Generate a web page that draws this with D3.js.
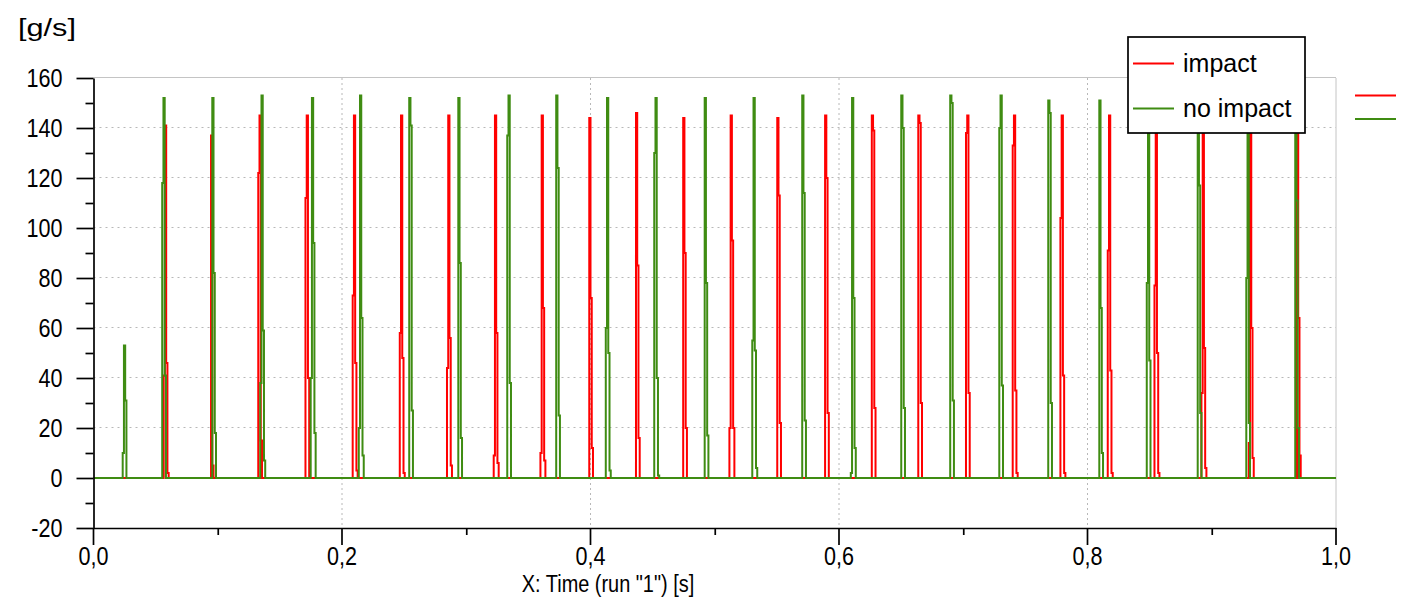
<!DOCTYPE html>
<html>
<head>
<meta charset="utf-8">
<script src="https://cdn.jsdelivr.net/npm/d3@7"></script>
<style>
  body { margin: 0; background: #fff; }
  text { font-family: 'Liberation Sans', Arial, sans-serif; fill: #000; }
</style>
</head>
<body>
<svg width="1409" height="606"></svg>
<script>
// series names / colours
var seriesNames = ['impact', 'no impact']
var seriesColors = ['#ff0000', '#3f8c12']

// y ticks, x ticks
var yTicks = [-20, 0, 20, 40, 60, 80, 100, 120, 140, 160]
var yMinor = [-10, 10, 30, 50, 70, 90, 110, 130, 150]
var xTicks = [0, 0.2, 0.4, 0.6, 0.8, 1.0]
var xMinor = [0.1, 0.3, 0.5, 0.7, 0.9]

// sample interval of the pulses [s]
var dt = 0.001

// "impact" pulses: start time [s] and the sampled values [g/s]
var redStarts = [0.0555, 0.0936, 0.1316, 0.1696, 0.2076, 0.2455, 0.2835, 0.3211, 0.3587, 0.3980,
    0.4356, 0.4736, 0.5108, 0.5493, 0.5878, 0.6254, 0.6628, 0.7012, 0.7388, 0.7772,
    0.8153, 0.8529, 0.8907, 0.9288, 0.9676]
var redPulses = [
    [0, 41, 141, 46, 2, 0],
    [0, 137, 5, 0],
    [0, 122, 145, 15, 0],
    [0, 112, 145, 40, 0],
    [0, 73, 145, 46, 3, 0],
    [0, 58, 145, 48, 2, 0],
    [0, 44, 145, 56, 5, 0],
    [0, 9, 145, 58, 6, 0],
    [0, 10, 145, 68, 7, 0],
    [0, 144, 72, 12, 0],
    [0, 146, 85, 16, 0],
    [0, 144, 90, 20, 0],
    [0, 20, 145, 95, 20, 0],
    [0, 144, 113, 22, 0],
    [0, 145, 120, 26, 0],
    [0, 145, 139, 28, 0],
    [0, 145, 142, 30, 0],
    [0, 138, 145, 34, 0],
    [0, 133, 145, 35, 2, 0],
    [0, 104, 145, 41, 2, 0],
    [0, 91, 145, 43, 2, 0],
    [0, 77, 145, 50, 2, 0],
    [0, 34, 145, 52, 4, 0],
    [0, 14, 145, 60, 8, 0],
    [0, 145, 64, 9, 0]
]

// "no impact" pulses
var greenStarts = [0.0225, 0.0543, 0.0946, 0.1332, 0.1738, 0.2125, 0.2531, 0.2926, 0.3320, 0.3714,
    0.4113, 0.4503, 0.4909, 0.5292, 0.5694, 0.6085, 0.6491, 0.6885, 0.7280, 0.7674,
    0.8085, 0.8467, 0.8877, 0.9268, 0.9662]
var greenPulses = [
    [0, 10, 53, 31, 0],
    [0, 118, 152, 41, 0],
    [0, 152, 82, 18, 0],
    [0, 38, 153, 59, 7, 0],
    [0, 40, 152, 94, 18, 0],
    [0, 20, 153, 64, 9, 0],
    [0, 152, 141, 27, 0],
    [0, 152, 86, 16, 0],
    [0, 137, 153, 38, 0],
    [0, 153, 124, 25, 0],
    [0, 60, 152, 50, 3, 0],
    [0, 130, 152, 40, 1, 0],
    [0, 152, 78, 17, 0],
    [0, 55, 152, 51, 4, 0],
    [0, 153, 114, 23, 0],
    [0, 2, 152, 72, 12, 0],
    [0, 153, 140, 28, 0],
    [0, 153, 150, 31, 0],
    [0, 140, 153, 37, 0],
    [0, 151, 146, 30, 0],
    [0, 151, 68, 10, 0],
    [0, 78, 152, 47, 0],
    [0, 152, 117, 26, 0],
    [0, 80, 152, 22, 0],
    [0, 152, 111, 20, 0]
]

function toSeries(starts, pulses) {
    var pts = [[0, 0]]
    starts.forEach(function (t0, k) {
        pulses[k].forEach(function (v, i) { pts.push([t0 + i * dt, v]) })
    })
    pts.push([1, 0])
    return pts
}
var series = [toSeries(redStarts, redPulses), toSeries(greenStarts, greenPulses)]

var svg = d3.select('svg')
var x = d3.scaleLinear().domain([0, 1]).range([93.5, 1336])
var y = d3.scaleLinear().domain([-20, 160]).range([528, 78])
var sx = 0.83 // condensed look of the axis font

// grid (dotted)
svg.append('g')
    .selectAll('line')
    .data(yTicks.filter(d => d > -20 && d < 160))
    .enter()
    .append('line')
    .attr('x1', x(0)).attr('x2', x(1))
    .attr('y1', d => y(d) - 0.5).attr('y2', d => y(d) - 0.5)
    .attr('stroke', '#b8b8b8')
    .attr('stroke-dasharray', '2,4')

svg.append('g')
    .selectAll('line')
    .data(xTicks.filter(d => d > 0 && d < 1))
    .enter()
    .append('line')
    .attr('x1', d => x(d)).attr('x2', d => x(d))
    .attr('y1', y(160)).attr('y2', y(-20))
    .attr('stroke', '#b8b8b8')
    .attr('stroke-dasharray', '2,3')

// top / right border
svg.append('line')
    .attr('x1', x(0)).attr('x2', x(1))
    .attr('y1', y(160) - 0.5).attr('y2', y(160) - 0.5)
    .attr('stroke', '#c4c4c4')
svg.append('line')
    .attr('x1', x(1)).attr('x2', x(1))
    .attr('y1', y(160)).attr('y2', y(-20))
    .attr('stroke', '#c4c4c4')

// lines
svg.append('clipPath').attr('id', 'plot')
    .append('rect')
    .attr('x', x(0)).attr('y', y(160) - 2)
    .attr('width', x(1) - x(0)).attr('height', y(-20) - y(160) + 2)

var line = d3.line()
    .x(d => x(d[0]))
    .y(d => y(d[1]))
    .curve(d3.curveStepAfter)

svg.append('g')
    .attr('clip-path', 'url(#plot)')
    .selectAll('path')
    .data(series)
    .enter()
    .append('path')
    .attr('d', line)
    .attr('fill', 'none')
    .attr('stroke', (d, i) => seriesColors[i])
    .attr('stroke-width', 2)

// axes
var yAxis = svg.append('g')
    .attr('transform', 'translate(' + x(0) + ',0)')
    .call(d3.axisLeft(y).tickValues(yTicks).tickSize(17).tickSizeOuter(0)
        .tickFormat(d => String(d)))
yAxis.selectAll('text')
    .attr('x', -31 / sx)
    .attr('transform', 'scale(' + sx + ',1)')
    .style('font-size', '26px')

svg.append('g')
    .attr('transform', 'translate(' + x(0) + ',0)')
    .call(d3.axisLeft(y).tickValues(yMinor).tickSize(8).tickFormat(''))
    .select('.domain').remove()

var xAxis = svg.append('g')
    .attr('transform', 'translate(0,' + y(-20) + ')')
    .call(d3.axisBottom(x).tickValues(xTicks).tickSize(17).tickSizeOuter(0).tickPadding(2)
        .tickFormat(d => d.toFixed(1).replace('.', ',')))
xAxis.selectAll('text')
    .attr('transform', 'scale(' + sx + ',1)')
    .style('font-size', '26px')
xAxis.selectAll('.tick').each(function (d) {
    d3.select(this).attr('transform', 'translate(' + x(d) + ',0)')
    d3.select(this).select('text').attr('x', 0)
})

svg.append('g')
    .attr('transform', 'translate(0,' + y(-20) + ')')
    .call(d3.axisBottom(x).tickValues(xMinor).tickSize(7).tickFormat(''))
    .select('.domain').remove()

svg.selectAll('.domain, .tick line')
    .attr('stroke', '#000')
    .attr('stroke-width', 1.7)

// titles
svg.append('text')
    .text('[g/s]')
    .attr('x', 18)
    .attr('y', 36)
    .attr('textLength', 58)
    .attr('lengthAdjust', 'spacingAndGlyphs')
    .style('font-size', '23px')

svg.append('text')
    .text('X: Time (run "1") [s]')
    .attr('x', 608 / sx)
    .attr('y', 592)
    .attr('transform', 'scale(' + sx + ',1)')
    .style('text-anchor', 'middle')
    .style('font-size', '24px')

// legend box
var legend = svg.append('g')
legend.append('rect')
    .attr('x', 1128).attr('y', 37)
    .attr('width', 177).attr('height', 96)
    .attr('fill', '#fff')
    .attr('stroke', '#000')
    .attr('stroke-width', 1.7)

legend.selectAll('line')
    .data(seriesNames)
    .enter()
    .append('line')
    .attr('x1', 1133).attr('x2', 1174)
    .attr('y1', (d, i) => 63.5 + i * 45).attr('y2', (d, i) => 63.5 + i * 45)
    .attr('stroke', (d, i) => seriesColors[i])
    .attr('stroke-width', 2)

legend.selectAll('text')
    .data(seriesNames)
    .enter()
    .append('text')
    .text(d => d)
    .attr('x', 1183)
    .attr('y', (d, i) => 72 + i * 45)
    .style('font-size', '25px')

// stray legend marks at the right edge
svg.append('g')
    .selectAll('line')
    .data(seriesNames)
    .enter()
    .append('line')
    .attr('x1', 1355).attr('x2', 1396)
    .attr('y1', (d, i) => 95.5 + i * 23.5).attr('y2', (d, i) => 95.5 + i * 23.5)
    .attr('stroke', (d, i) => seriesColors[i])
    .attr('stroke-width', 2)
</script>
</body>
</html>
